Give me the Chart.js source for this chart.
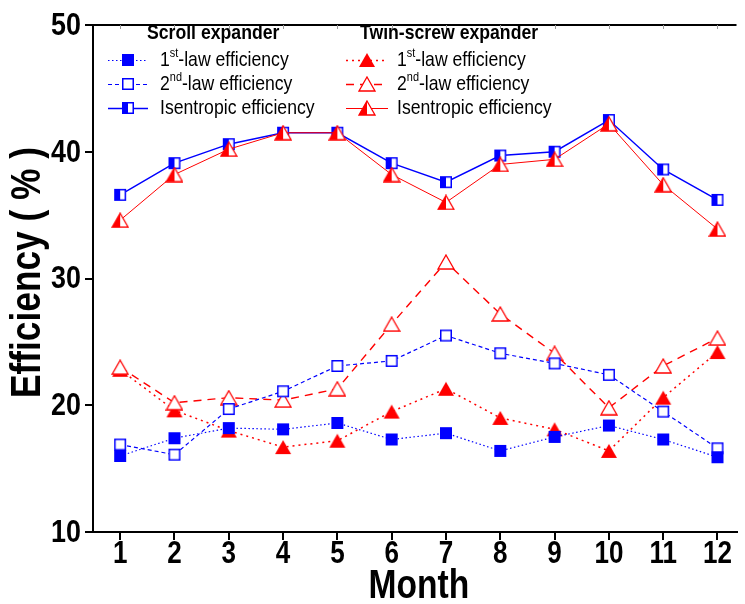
<!DOCTYPE html>
<html>
<head>
<meta charset="utf-8">
<script src="https://cdn.jsdelivr.net/npm/chart.js@4.4.1/dist/chart.umd.min.js"></script>
<style>
  html, body { margin: 0; padding: 0; background: #fff; overflow: hidden; }
  #c { display: block; }
</style>
</head>
<body>
<canvas id="c" width="745" height="604"></canvas>
<script>
// ---------------- data ----------------
const months = [1, 2, 3, 4, 5, 6, 7, 8, 9, 10, 11, 12];
const scroll1st  = [16.0, 17.4, 18.2, 18.1, 18.6, 17.3, 17.8, 16.4, 17.5, 18.4, 17.3, 15.9];
const scroll2nd  = [16.9, 16.1, 19.7, 21.1, 23.1, 23.5, 25.5, 24.1, 23.3, 22.4, 19.5, 16.6];
const scrollIsen = [36.6, 39.1, 40.6, 41.5, 41.5, 39.1, 37.6, 39.7, 40.0, 42.5, 38.6, 36.2];
const twin1st    = [22.8, 19.6, 18.0, 16.7, 17.2, 19.5, 21.3, 19.0, 18.1, 16.4, 20.6, 24.2];
const twin2nd    = [23.0, 20.2, 20.6, 20.4, 21.3, 26.4, 31.3, 27.2, 24.1, 19.8, 23.1, 25.3];
const twinIsen   = [34.6, 38.2, 40.2, 41.5, 41.5, 38.2, 36.0, 39.0, 39.4, 42.2, 37.4, 33.9];
const yTicks = [10, 20, 30, 40, 50];
const groupTitles = ['Scroll expander', 'Twin-screw expander'];
const entryLabels = [['1', 'st', '-law efficiency'], ['2', 'nd', '-law efficiency'], ['Isentropic efficiency', '', '']];
const xTitle = 'Month';
const yTitle = 'Efficiency ( % )';

// ---------------- styles ----------------
const BLUE = '#0000ff';
const RED = '#ff0000';
const FAM = "'Liberation Sans', Arial, sans-serif";
const SX = 0.84; // horizontal condensing of the Arial-like font

function sqMarker(kind) {
  const c = document.createElement('canvas');
  c.width = 14; c.height = 14;
  const g = c.getContext('2d');
  if (kind === 'filled') {
    g.fillStyle = BLUE; g.fillRect(1, 1, 12, 12);
  } else {
    g.fillStyle = '#fff'; g.fillRect(1, 1, 12, 12);
    if (kind === 'half') { g.fillStyle = BLUE; g.fillRect(1, 1, 6, 12); }
    g.strokeStyle = BLUE; g.lineWidth = 1.5; g.strokeRect(1.75, 1.75, 10.5, 10.5);
  }
  return c;
}
function triMarker(kind) {
  const c = document.createElement('canvas');
  c.width = 18; c.height = 16;
  const g = c.getContext('2d');
  const path = () => { g.beginPath(); g.moveTo(9, 1); g.lineTo(17, 15); g.lineTo(1, 15); g.closePath(); };
  if (kind === 'filled') {
    path(); g.fillStyle = RED; g.fill();
  } else {
    path(); g.fillStyle = '#fff'; g.fill();
    if (kind === 'half') {
      g.save(); path(); g.clip(); g.fillStyle = RED; g.fillRect(0, 0, 9, 16); g.restore();
    }
    path(); g.strokeStyle = RED; g.lineWidth = 1.3; g.stroke();
  }
  return c;
}

const M = {
  s1: sqMarker('filled'), s2: sqMarker('open'), s3: sqMarker('half'),
  t1: triMarker('filled'), t2: triMarker('open'), t3: triMarker('half')
};

const seriesDefs = [
  { key: 't3', data: twinIsen,   color: RED,  dash: [],     width: 1.0, order: 0 },
  { key: 's3', data: scrollIsen, color: BLUE, dash: [],     width: 1.5, order: 1 },
  { key: 's1', data: scroll1st,  color: BLUE, dash: [1.5, 2.5], width: 1.2, order: 2 },
  { key: 's2', data: scroll2nd,  color: BLUE, dash: [4, 3], width: 1.2, order: 3 },
  { key: 't2', data: twin2nd,    color: RED,  dash: [8, 6], width: 1.4, order: 4 },
  { key: 't1', data: twin1st,    color: RED,  dash: [2, 4], width: 1.5, order: 5 }
];

const datasets = seriesDefs.map(s => ({
  data: months.map((m, i) => ({ x: m, y: s.data[i] })),
  borderColor: s.color,
  borderWidth: s.width,
  borderDash: s.dash,
  pointStyle: M[s.key],
  pointRadius: 7,
  pointHoverRadius: 7,
  tension: 0,
  fill: false,
  order: s.order
}));

// condensed text helper
function ctext(ctx, txt, x, y, font, align, rot) {
  ctx.save();
  ctx.font = font;
  ctx.textBaseline = 'middle';
  ctx.textAlign = 'left';
  ctx.translate(x, y);
  if (rot) ctx.rotate(rot);
  ctx.scale(SX, 1);
  const w = ctx.measureText(txt).width;
  let dx = 0;
  if (align === 'center') dx = -w / 2;
  else if (align === 'right') dx = -w;
  ctx.fillText(txt, dx, 0);
  ctx.restore();
  return w * SX;
}

// ---------------- plugins ----------------
const textsAndFrame = {
  id: 'textsAndFrame',
  afterDraw(chart) {
    const { ctx, chartArea: ca, scales } = chart;
    const xs = scales.x, ys = scales.y;
    ctx.save();
    ctx.fillStyle = '#000';
    // tick labels
    months.forEach(m => ctext(ctx, String(m), xs.getPixelForValue(m), ca.bottom + 22, 'bold 31px ' + FAM, 'center'));
    yTicks.forEach(v => ctext(ctx, String(v), ca.left - 12, ys.getPixelForValue(v) + 1, 'bold 32px ' + FAM, 'right'));
    // axis titles
    ctext(ctx, xTitle, (xs.getPixelForValue(0.5) + xs.getPixelForValue(12.5)) / 2, ca.bottom + 55, 'bold 40px ' + FAM, 'center');
    ctext(ctx, yTitle, 28, (ca.top + ca.bottom) / 2 - 6, 'bold 42px ' + FAM, 'center', -Math.PI / 2);

    // top border with small inward ticks
    ctx.strokeStyle = '#000'; ctx.lineWidth = 2;
    ctx.beginPath(); ctx.moveTo(ca.left - 1, ca.top); ctx.lineTo(ca.right, ca.top); ctx.stroke();
    ctx.strokeStyle = '#999'; ctx.lineWidth = 1;
    months.forEach(m => {
      const x = Math.round(xs.getPixelForValue(m)) + 0.5;
      ctx.beginPath(); ctx.moveTo(x, ca.top); ctx.lineTo(x, ca.top + 4); ctx.stroke();
    });

    // legend
    const groups = [
      { title: groupTitles[0], titleX: 147, lineX0: 108, lineX1: 148, mX: 128, textX: 160, keys: ['s1', 's2', 's3'] },
      { title: groupTitles[1], titleX: 360, lineX0: 346, lineX1: 388, mX: 367, textX: 397, keys: ['t1', 't2', 't3'] }
    ];
    const rowY = [60, 84, 108];
    groups.forEach(gr => {
      ctx.fillStyle = '#000';
      ctext(ctx, gr.title, gr.titleX, 33, 'bold 21px ' + FAM, 'left');
      gr.keys.forEach((k, r) => {
        const def = seriesDefs.find(s => s.key === k);
        const y = rowY[r];
        ctx.strokeStyle = def.color; ctx.lineWidth = def.width; ctx.setLineDash(def.dash);
        ctx.beginPath(); ctx.moveTo(gr.lineX0, y + 0.5); ctx.lineTo(gr.lineX1, y + 0.5); ctx.stroke();
        ctx.setLineDash([]);
        const img = M[k];
        ctx.drawImage(img, Math.round(gr.mX - img.width / 2), Math.round(y - img.height / 2));
        const [a, sup, b] = entryLabels[r];
        ctx.fillStyle = '#000';
        let x = gr.textX;
        x += ctext(ctx, a, x, y, '21px ' + FAM, 'left');
        if (sup) {
          x += ctext(ctx, sup, x, y - 7, '13px ' + FAM, 'left');
          ctext(ctx, b, x, y, '21px ' + FAM, 'left');
        }
      });
    });
    ctx.restore();
  }
};

// ---------------- chart ----------------
new Chart(document.getElementById('c'), {
  type: 'line',
  data: { datasets },
  options: {
    responsive: false,
    animation: false,
    devicePixelRatio: 1,
    layout: { padding: { top: 25, right: 0, left: 0, bottom: 0 } },
    plugins: { legend: { display: false }, tooltip: { enabled: false } },
    scales: {
      x: {
        type: 'linear', position: 'bottom', min: 0.5, max: 12.35,
        afterBuildTicks: s => { s.ticks = months.map(v => ({ value: v })); },
        afterFit: s => { s.height = 72; },
        ticks: { display: false },
        grid: { drawOnChartArea: false, drawTicks: true, tickLength: 8, color: '#000', lineWidth: 2 },
        border: { display: true, color: '#000', width: 2 },
        title: { display: false }
      },
      y: {
        type: 'linear', position: 'left', min: 10, max: 50,
        afterBuildTicks: s => { s.ticks = yTicks.map(v => ({ value: v })); },
        afterFit: s => { s.width = 93; },
        ticks: { display: false },
        grid: { drawOnChartArea: false, drawTicks: true, tickLength: 8, color: '#000', lineWidth: 2 },
        border: { display: true, color: '#000', width: 2 },
        title: { display: false }
      }
    }
  },
  plugins: [textsAndFrame]
});
</script>
</body>
</html>
